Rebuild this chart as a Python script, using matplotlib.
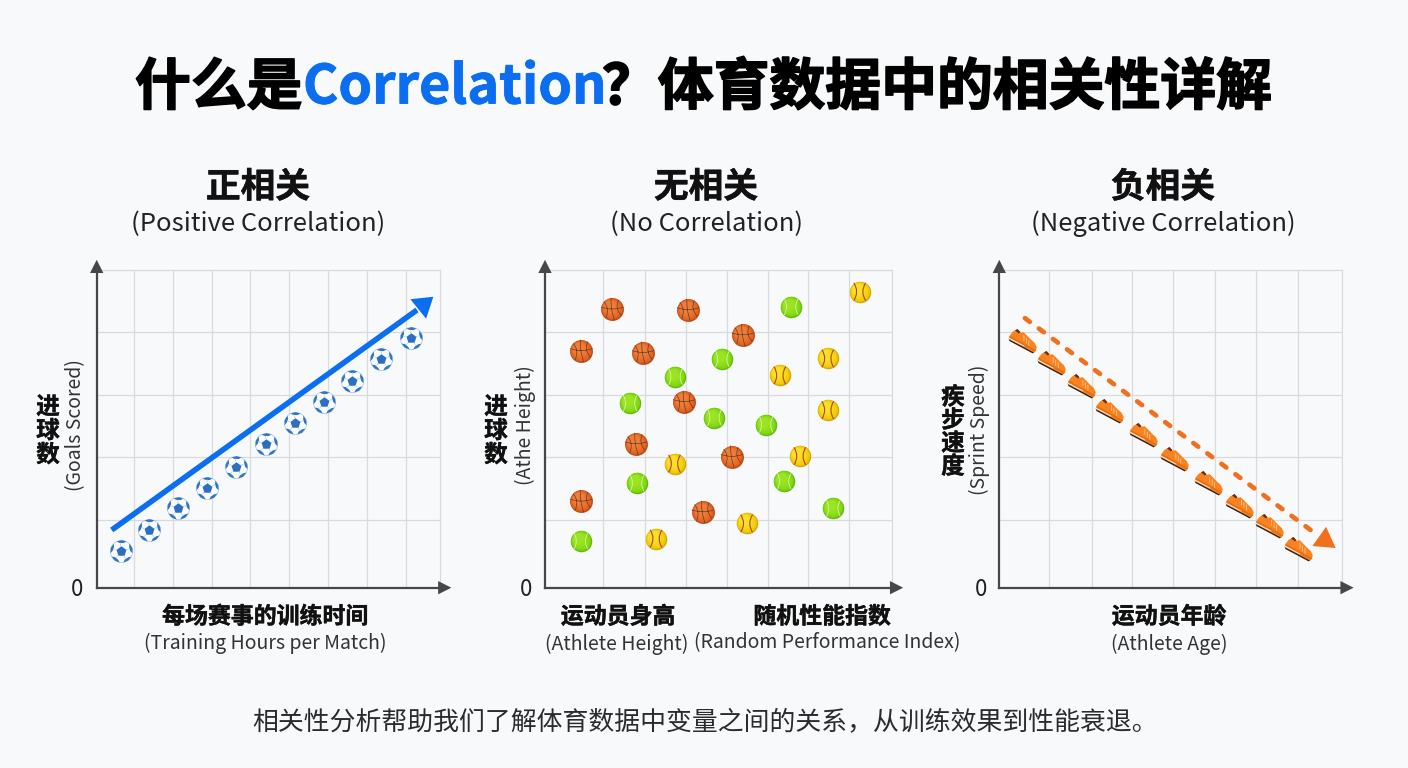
import matplotlib
matplotlib.use('Agg')
import matplotlib.pyplot as plt
import matplotlib.patheffects as pe
from matplotlib.path import Path
from matplotlib.transforms import Affine2D
import numpy as np

plt.rcParams['font.family'] = ['Noto Sans CJK SC', 'DejaVu Sans']

# ----------------------------
# Data
# ----------------------------
goals_x = [0.615, 1.34, 2.08, 2.83, 3.56, 4.33, 5.08, 5.83, 6.55, 7.30, 8.05]
goals_y = [0.578, 0.916, 1.26, 1.59, 1.92, 2.28, 2.61, 2.95, 3.29, 3.63, 3.96]
up_trend_x = [0.385, 8.21, 8.63]
up_trend_y = [0.916, 4.41, 4.62]

basket_x = [1.64, 3.49, 4.83, 0.89, 2.39, 3.40, 2.22, 4.56, 0.89, 3.85]
basket_y = [4.42, 4.41, 4.01, 3.76, 3.73, 2.95, 2.28, 2.08, 1.37, 1.20]
tennis_x = [6.00, 4.32, 3.18, 2.07, 4.13, 5.39, 2.24, 5.83, 7.03, 0.87]
tennis_y = [4.46, 3.63, 3.35, 2.93, 2.70, 2.59, 1.66, 1.69, 1.26, 0.74]
softball_x = [7.68, 6.90, 5.73, 6.90, 6.22, 3.16, 4.92, 2.71]
softball_y = [4.70, 3.64, 3.37, 2.82, 2.09, 1.97, 1.02, 0.78]

speed_x = [0.57, 1.28, 2.00, 2.69, 3.50, 4.25, 5.07, 5.84, 6.57, 7.26]
speed_y = [3.93, 3.58, 3.22, 2.82, 2.44, 2.06, 1.68, 1.32, 1.00, 0.63]
down_trend_x = [0.62, 7.74, 8.15]
down_trend_y = [4.28, 0.82, 0.63]

grid_y = [1.07, 2.07, 3.06, 4.06]
grid_x_left = [0.956, 1.95, 2.95, 3.94, 4.94, 5.94, 6.93, 7.92]
grid_x_mid = [1.42, 2.44, 3.44, 4.45, 5.43, 6.42, 7.42]
grid_x_right = [1.21, 2.24, 3.22, 4.21, 5.22, 6.22, 7.23]

BG = '#f7f9fb'
GRID = '#d8dadd'
AXIS = '#454749'
BLUE = '#0b6ef0'
ORANGE = '#f0701e'

W, H = 1408, 768
fig = plt.figure(figsize=(W / 100, H / 100), dpi=100, facecolor=BG)


def panel(left, right, xmax, xticks):
    top, bottom = 270.3, 587.7
    ax = fig.add_axes([left / W, 1 - bottom / H, (right - left) / W, (bottom - top) / H])
    ax.set_facecolor('none')
    ax.set_xlim(0, xmax)
    ax.set_ylim(0, 5.04)
    ax.set_xticks(xticks)
    ax.set_yticks(grid_y)
    ax.tick_params(length=0, labelbottom=False, labelleft=False)
    ax.grid(True, color=GRID, lw=0.9)
    ax.set_axisbelow(True)
    for side in ['top', 'right']:
        ax.spines[side].set_color(GRID)
        ax.spines[side].set_linewidth(0.9)
    for side in ['left', 'bottom']:
        ax.spines[side].set_color(AXIS)
        ax.spines[side].set_linewidth(1.6)
    # axis arrow heads
    for tip, tail in [((0, 1.033), (0, 0.99)), ((1.033, 0), (0.99, 0))]:
        ax.annotate('', xy=tip, xytext=tail, xycoords='axes fraction', annotation_clip=False,
                    arrowprops=dict(arrowstyle='-|>,head_length=9.5,head_width=4.8', mutation_scale=1,
                                    lw=0, fc=AXIS, ec=AXIS, shrinkA=0, shrinkB=0))
    return ax


# ----------------------------
# Marker shapes
# ----------------------------
# The anchor keeps every shape on the same unit box, custom markers are rescaled to their largest vertex
ANCHOR = Path([(1.0, 1.0)], [Path.MOVETO])


def boxed(*paths):
    return Path.make_compound_path(ANCHOR, *paths)


def disc(cx=0.0, cy=0.0, r=1.0):
    return boxed(Path.unit_circle().transformed(Affine2D().scale(r).translate(cx, cy)))


def curve(p0, c, p1):
    return Path([p0, c, p1], [Path.MOVETO, Path.CURVE3, Path.CURVE3])


def poly(*pts):
    return Path(list(pts) + [pts[0]], [Path.MOVETO] + [Path.LINETO] * (len(pts) - 1) + [Path.CLOSEPOLY])


def shaded_ball(ax, xs, ys, size, rim, mid, light):
    ax.scatter(xs, ys, s=size, marker=disc(), color=rim, lw=0, zorder=3)
    ax.scatter(xs, ys, s=size, marker=disc(-0.04, 0.05, 0.92), color=mid, lw=0, zorder=3)
    for t in [0.25, 0.45, 0.65, 0.85]:
        ax.scatter(xs, ys, s=size, marker=disc(-0.3 * t, 0.32 * t, 0.92 - 0.5 * t),
                   color=light, alpha=0.22, lw=0, zorder=3)


def stroke(ax, xs, ys, size, shape, color, lw):
    ax.scatter(xs, ys, s=size, marker=boxed(shape), facecolors='none', edgecolors=color, linewidths=lw, zorder=4)


def soccer_balls(ax, xs, ys):
    size = 268
    ax.scatter(xs, ys, s=size, marker=disc(), color='#a9c3e2', lw=0, zorder=3)
    ax.scatter(xs, ys, s=size, marker=disc(0, 0, 0.94), color='#fbfcfe', lw=0, zorder=3)
    angles = np.deg2rad(90 + 72 * np.arange(5))
    centre = poly(*[(0.46 * np.cos(a), 0.46 * np.sin(a)) for a in angles])
    spokes = [Path([(0.46 * np.cos(a), 0.46 * np.sin(a)), (0.72 * np.cos(a), 0.72 * np.sin(a))]) for a in angles]
    patches = []
    for a in angles:
        d = np.deg2rad(27)
        patches.append(poly((0.98 * np.cos(a - d), 0.98 * np.sin(a - d)),
                            (1.0 * np.cos(a), 1.0 * np.sin(a)),
                            (0.98 * np.cos(a + d), 0.98 * np.sin(a + d)),
                            (0.78 * np.cos(a + d * 0.5), 0.78 * np.sin(a + d * 0.5)),
                            (0.76 * np.cos(a - d * 0.5), 0.76 * np.sin(a - d * 0.5))))
    ax.scatter(xs, ys, s=size, marker=boxed(*patches), color='#2f76c6', lw=0, zorder=4)
    ax.scatter(xs, ys, s=size, marker=boxed(centre), color='#2c6fbd', lw=0, zorder=4)
    stroke(ax, xs, ys, size, Path.make_compound_path(*spokes), '#b9c6d6', 0.5)


def basketballs(ax, xs, ys):
    size = 272
    shaded_ball(ax, xs, ys, size, '#bf4c1a', '#e0601f', '#f8914a')
    seams = Path.make_compound_path(
        curve((-0.96, 0.2), (0.0, -0.15), (0.96, 0.2)),
        curve((-0.1, 0.98), (-0.15, 0.0), (0.2, -0.96)),
        curve((-0.72, 0.66), (-0.2, 0.1), (-0.55, -0.8)),
        curve((0.55, 0.82), (0.2, 0.1), (0.8, -0.55)),
    )
    stroke(ax, xs, ys, size, seams, '#5b3424', 0.45)


def tennis_balls(ax, xs, ys):
    size = 240
    shaded_ball(ax, xs, ys, size, '#62bd08', '#7dd410', '#aef030')
    seams = Path.make_compound_path(
        curve((-0.62, 0.76), (-0.18, 0.0), (-0.62, -0.76)),
        curve((0.66, 0.72), (0.22, 0.0), (0.66, -0.72)),
    )
    stroke(ax, xs, ys, size, seams, '#d9f5a0', 0.6)


def softballs(ax, xs, ys):
    size = 240
    shaded_ball(ax, xs, ys, size, '#d7a900', '#eec805', '#fff03a')
    seams = Path.make_compound_path(
        curve((-0.55, 0.82), (-0.02, 0.0), (-0.55, -0.82)),
        curve((0.55, 0.82), (0.02, 0.0), (0.55, -0.82)),
    )
    stroke(ax, xs, ys, size, seams, '#b6402a', 0.8)


def shoes(ax, xs, ys):
    size = 590
    tilt = Affine2D().translate(0.0, -0.18).rotate_deg(-28)

    def place(*shape):
        return boxed(*[p.transformed(tilt) for p in shape])

    upper = poly((-0.8, -0.16), (-0.86, 0.08), (-0.8, 0.36), (-0.66, 0.56), (-0.42, 0.46), (-0.22, 0.62), (0.05, 0.54),
                 (0.35, 0.44), (0.66, 0.36), (0.88, 0.2), (0.94, -0.02), (0.88, -0.16))
    sole = poly((-0.84, -0.12), (0.9, -0.12), (0.84, -0.24), (-0.72, -0.24))
    midsole = poly((-0.84, -0.07), (0.2, -0.07), (0.2, -0.12), (-0.82, -0.14))
    collar = poly((-0.72, 0.47), (-0.64, 0.62), (-0.38, 0.53), (-0.44, 0.42))
    shade = poly((-0.84, -0.07), (0.9, -0.1), (0.93, 0.02), (0.3, 0.04), (-0.85, 0.05))
    laces = [Path([(x, 0.5 - 0.3 * (x + 0.2)), (x + 0.16, 0.2 - 0.3 * (x + 0.2))]) for x in [-0.08, 0.12, 0.32]]
    ax.scatter(xs, ys, s=size, marker=place(sole), color='#2e211c', lw=0, zorder=3)
    ax.scatter(xs, ys, s=size, marker=place(upper), color='#f8831f', lw=0, zorder=3)
    ax.scatter(xs, ys, s=size, marker=place(shade), color='#e96f14', lw=0, zorder=3)
    ax.scatter(xs, ys, s=size, marker=place(midsole), color='#f6e6d4', lw=0, zorder=3)
    ax.scatter(xs, ys, s=size, marker=place(collar), color='#6b2d12', lw=0, zorder=3)
    ax.scatter(xs, ys, s=size, marker=place(*laces), facecolors='none', edgecolors='#fbc998', linewidths=0.6, zorder=4)


def trend_head(ax, xs, ys, color, length, half_width):
    ax.annotate('', xy=(xs[-1], ys[-1]), xytext=(xs[-2], ys[-2]), annotation_clip=False,
                arrowprops=dict(arrowstyle=f'-|>,head_length={length},head_width={half_width}', mutation_scale=1,
                                lw=0, fc=color, ec=color, shrinkA=0, shrinkB=0), zorder=5)


# ----------------------------
# Left panel: positive correlation
# ----------------------------
ax1 = panel(96.7, 440, 8.8, grid_x_left)
soccer_balls(ax1, goals_x, goals_y)
ax1.plot(up_trend_x[:2], up_trend_y[:2], color=BLUE, lw=4.0, solid_capstyle='butt', zorder=5)
trend_head(ax1, up_trend_x, up_trend_y, BLUE, 14, 9)

# ----------------------------
# Middle panel: no correlation
# ----------------------------
ax2 = panel(545, 891.7, 8.46, grid_x_mid)
basketballs(ax2, basket_x, basket_y)
tennis_balls(ax2, tennis_x, tennis_y)
softballs(ax2, softball_x, softball_y)

# ----------------------------
# Right panel: negative correlation
# ----------------------------
ax3 = panel(999.3, 1342.3, 8.31, grid_x_right)
shoes(ax3, speed_x, speed_y)
ax3.plot(down_trend_x[:2], down_trend_y[:2], color=ORANGE, lw=3.4, dashes=(1.3, 2.4),
         dash_capstyle='round', zorder=5)
trend_head(ax3, down_trend_x, down_trend_y, ORANGE, 14.5, 8.5)

# ----------------------------
# Text layer in pixel coordinates
# ----------------------------
txt = fig.add_axes([0, 0, 1, 1], facecolor='none')
txt.set_xlim(0, W)
txt.set_ylim(H, 0)
txt.axis('off')


def label(x, y, s, size, weight='normal', color='#1a1a1a', ha='center', heavy=0.0, **kw):
    t = txt.text(x, y, s, fontsize=size, fontweight=weight, color=color, ha=ha, va='center', **kw)
    if heavy:
        t.set_path_effects([pe.withStroke(linewidth=heavy, foreground=color)])
    return t


# Title in three pieces so the English word can take its own colour
label(135, 88, '什么是', 40.2, 'bold', '#000000', ha='left', heavy=1.2)
label(303, 88, 'Correlation', 38.8, 'bold', BLUE, ha='left', heavy=0.6)
label(602, 88, '？体育数据中的相关性详解', 40.2, 'bold', '#000000', ha='left', heavy=1.2)

panel_titles = ['正相关', '无相关', '负相关']
panel_titles_en = ['(Positive Correlation)', '(No Correlation)', '(Negative Correlation)']
for cx, zh, en in zip([258, 706, 1163], panel_titles, panel_titles_en):
    label(cx, 187, zh, 25, 'bold', '#111111', heavy=0.4)
    label(cx, 224, en, 18.4, color='#222222')

for x in [77.5, 526.5, 981]:
    label(x, 589, '0', 16, color='#222222')

label(265, 617, '每场赛事的训练时间', 16.5, 'bold', '#111111', heavy=0.3)
label(265, 643, '(Training Hours per Match)', 14, color='#333333')
label(618, 617, '运动员身高', 16.5, 'bold', '#111111', heavy=0.3)
label(617, 644, '(Athlete Height)', 14, color='#333333')
label(822, 617, '随机性能指数', 16.5, 'bold', '#111111', heavy=0.3)
label(827, 643, '(Random Performance Index)', 14, color='#333333')
label(1169, 617, '运动员年龄', 16.5, 'bold', '#111111', heavy=0.3)
label(1169, 644, '(Athlete Age)', 14, color='#333333')

# Stacked vertical axis names with the English part turned on its side
label(48, 431, '进\n球\n数', 17, 'bold', '#111111', linespacing=1.0, heavy=0.3)
label(76, 425, '(Goals Scored)', 14, color='#333333', rotation=90)
label(496, 431, '进\n球\n数', 17, 'bold', '#111111', linespacing=1.0, heavy=0.3)
label(525, 425, '(Athe Height)', 14, color='#333333', rotation=90)
label(953, 432, '疾\n步\n速\n度', 17, 'bold', '#111111', linespacing=0.95, heavy=0.3)
label(979, 430, '(Sprint Speed)', 14, color='#333333', rotation=90)

label(705, 722, '相关性分析帮助我们了解体育数据中变量之间的关系，从训练效果到性能衰退。', 18.6, color='#2b2b2b')

fig.savefig('out.png', dpi=100, facecolor=BG)
